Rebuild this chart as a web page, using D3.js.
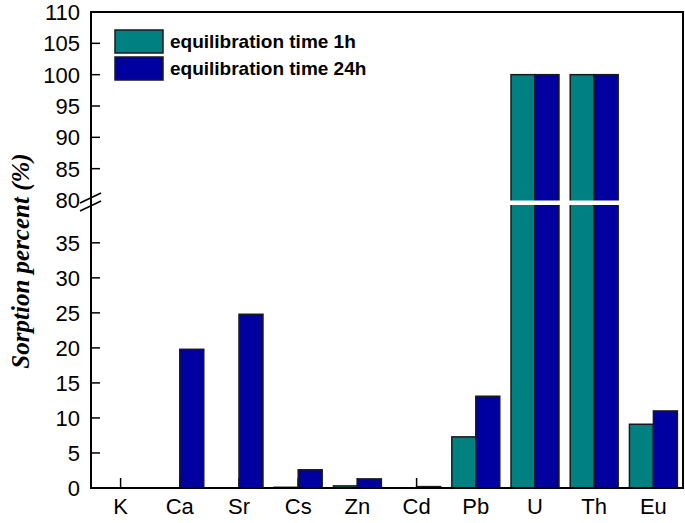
<!DOCTYPE html>
<html>
<head>
<meta charset="utf-8">
<script src="https://cdn.jsdelivr.net/npm/d3@7"></script>
<style>
  body { margin: 0; background: #fff; }
  text { font-family: "Liberation Sans", Arial, sans-serif; }
</style>
</head>
<body>
<div id="main"></div>
<script>
var ctx = {
    w: 685,
    h: 523,
    left: 91,
    right: 683,
    top: 12,
    bottom: 488,
    breakHi: 200,
    breakLo: 205
};

// data
var elements = ["K", "Ca", "Sr", "Cs", "Zn", "Cd", "Pb", "U", "Th", "Eu"];
var time1h  = [0, 0, 0, 0.1, 0.3, 0, 7.3, 100, 100, 9.1];
var time24h = [0, 19.8, 24.8, 2.6, 1.3, 0.2, 13.1, 100, 100, 11.0];
var seriesNames = ["equilibration time 1h", "equilibration time 24h"];
var seriesColors = ["#008080", "#0000a0"];
var ticksLow = [0, 5, 10, 15, 20, 25, 30, 35];
var ticksHigh = [80, 85, 90, 95, 100, 105, 110];

var svg = d3.select("#main").append("svg")
    .attr("width", ctx.w)
    .attr("height", ctx.h);

var x0 = d3.scaleBand()
    .domain(elements)
    .range([ctx.left, ctx.right])
    .paddingInner(0.19)
    .paddingOuter(0.095);

var x1 = d3.scaleBand()
    .domain([0, 1])
    .range([0, x0.bandwidth()]);

// broken y axis: two linear pieces
var yLow = d3.scaleLinear().domain([0, 40.4]).range([ctx.bottom, ctx.breakLo]);
var yHigh = d3.scaleLinear().domain([80, 110]).range([ctx.breakHi, ctx.top]);
var y = function(v) { return v <= 40.4 ? yLow(v) : yHigh(v); };

var rows = [];
elements.forEach(function(el, i) {
    rows.push({el: el, s: 0, v: time1h[i]});
    rows.push({el: el, s: 1, v: time24h[i]});
});

// category ticks (inward), drawn first so bars cover them
svg.append("g").selectAll("line")
    .data(elements)
    .enter()
    .append("line")
    .attr("x1", function(d) { return x0(d) + x0.bandwidth() / 2; })
    .attr("x2", function(d) { return x0(d) + x0.bandwidth() / 2; })
    .attr("y1", ctx.bottom)
    .attr("y2", ctx.bottom - 10)
    .style("stroke", "#000")
    .style("stroke-width", 1.5);

svg.append("g").selectAll("rect")
    .data(rows)
    .enter()
    .append("rect")
    .attr("x", function(d) { return x0(d.el) + x1(d.s); })
    .attr("width", x1.bandwidth())
    .attr("y", function(d) { return y(d.v); })
    .attr("height", function(d) { return ctx.bottom - y(d.v); })
    .style("fill", function(d) { return seriesColors[d.s]; })
    .style("stroke", "#1a1a1a")
    .style("stroke-width", 1.5);

// white gap through the tall bars
svg.append("rect")
    .attr("x", ctx.left + 2)
    .attr("y", ctx.breakHi + 0.5)
    .attr("width", ctx.right - ctx.left - 4)
    .attr("height", ctx.breakLo - ctx.breakHi - 0.5)
    .style("fill", "#fff");

// frame
svg.append("path")
    .attr("d", "M" + ctx.left + "," + ctx.top + "H" + ctx.right + "V" + ctx.bottom +
               "H" + ctx.left + "Z")
    .style("fill", "none")
    .style("stroke", "#000")
    .style("stroke-width", 2);

// y ticks, inward
var yt = svg.append("g");
var tickData = ticksLow.map(function(v) { return {v: v, y: yLow(v)}; })
    .concat(ticksHigh.map(function(v) { return {v: v, y: yHigh(v)}; }));

yt.selectAll("line")
    .data(tickData.filter(function(d) { return d.v != 0 && d.v != 80 && d.v != 110; }))
    .enter()
    .append("line")
    .attr("x1", ctx.left)
    .attr("x2", ctx.left + 9)
    .attr("y1", function(d) { return d.y; })
    .attr("y2", function(d) { return d.y; })
    .style("stroke", "#000")
    .style("stroke-width", 1.5);

yt.selectAll("text")
    .data(tickData)
    .enter()
    .append("text")
    .attr("x", 80)
    .attr("y", function(d) { return d.y; })
    .attr("dy", "0.36em")
    .attr("text-anchor", "end")
    .style("font-size", "22px")
    .text(function(d) { return d.v; });

// break marks
svg.append("g").selectAll("line")
    .data([0, 8])
    .enter()
    .append("line")
    .attr("x1", ctx.left - 11)
    .attr("x2", ctx.left + 10)
    .attr("y1", function(d) { return 203 + d; })
    .attr("y2", function(d) { return 193 + d; })
    .style("stroke", "#000")
    .style("stroke-width", 1.5);

// x labels
svg.append("g").selectAll("text")
    .data(elements)
    .enter()
    .append("text")
    .attr("x", function(d) { return x0(d) + x0.bandwidth() / 2; })
    .attr("y", 514)
    .attr("text-anchor", "middle")
    .style("font-size", "22px")
    .text(function(d) { return d; });

// y title
svg.append("text")
    .attr("transform", "translate(29,261) rotate(-90)")
    .attr("text-anchor", "middle")
    .style("font-family", "'Liberation Serif', 'Times New Roman', serif")
    .style("font-weight", "bold")
    .style("font-style", "italic")
    .style("font-size", "25px")
    .text("Sorption percent (%)");

// legend
var legend = svg.append("g").selectAll("g")
    .data(seriesNames)
    .enter()
    .append("g")
    .attr("transform", function(d, i) { return "translate(115," + (30 + i * 27) + ")"; });

legend.append("rect")
    .attr("width", 48)
    .attr("height", 23)
    .style("fill", function(d, i) { return seriesColors[i]; })
    .style("stroke", "#1a1a1a")
    .style("stroke-width", 1.5);

legend.append("text")
    .attr("x", 55)
    .attr("y", 18)
    .style("font-size", "19px")
    .style("font-weight", "bold")
    .text(function(d) { return d; });
</script>
</body>
</html>
